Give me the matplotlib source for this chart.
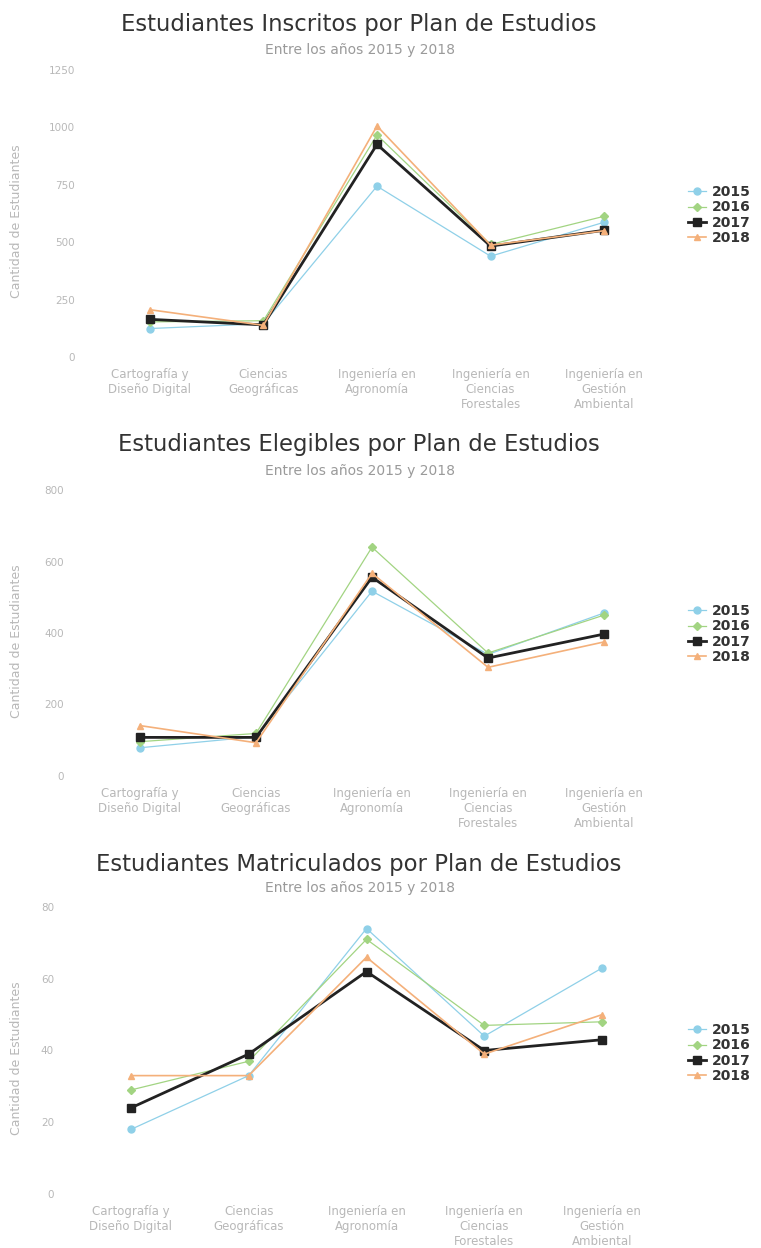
import matplotlib
matplotlib.use("Agg")
import matplotlib.pyplot as plt

plt.rcParams['font.family'] = ['DejaVu Sans']

categories = ["Cartografía y\nDiseño Digital", "Ciencias\nGeográficas",
              "Ingeniería en\nAgronomía", "Ingeniería en\nCiencias\nForestales",
              "Ingeniería en\nGestión\nAmbiental"]
years = ["2015", "2016", "2017", "2018"]

inscritos_2015 = [124, 145, 744, 439, 587]
inscritos_2016 = [153, 158, 967, 490, 613]
inscritos_2017 = [164, 140, 926, 483, 552]
inscritos_2018 = [206, 138, 1006, 487, 550]

elegibles_2015 = [79, 110, 517, 340, 456]
elegibles_2016 = [96, 119, 640, 344, 450]
elegibles_2017 = [108, 108, 556, 330, 397]
elegibles_2018 = [141, 93, 567, 304, 375]

matriculados_2015 = [18, 33, 74, 44, 63]
matriculados_2016 = [29, 37, 71, 47, 48]
matriculados_2017 = [24, 39, 62, 40, 43]
matriculados_2018 = [33, 33, 66, 39, 50]

titles = ["Estudiantes Inscritos por Plan de Estudios",
          "Estudiantes Elegibles por Plan de Estudios",
          "Estudiantes Matriculados por Plan de Estudios"]
subtitle = "Entre los años 2015 y 2018"
ylabel = "Cantidad de Estudiantes"
yticks_1 = [0, 250, 500, 750, 1000, 1250]
yticks_2 = [0, 200, 400, 600, 800]
yticks_3 = [0, 20, 40, 60, 80]

W, H = 761, 1248
fig = plt.figure(figsize=(W / 100, H / 100), dpi=100)

styles = [
    dict(color="#8fd0e8", marker="o", lw=0.9, ms=5),
    dict(color="#a2d482", marker="D", lw=0.9, ms=4),
    dict(color="#222222", marker="s", lw=2.0, ms=6),
    dict(color="#f4b07a", marker="^", lw=1.2, ms=5),
]

panels = [
    dict(series=[inscritos_2015, inscritos_2016, inscritos_2017, inscritos_2018],
         yticks=yticks_1, left=93, right=661, top=70, bottom=357,
         title_y=25, sub_y=50, leg_y=215),
    dict(series=[elegibles_2015, elegibles_2016, elegibles_2017, elegibles_2018],
         yticks=yticks_2, left=82, right=662, top=490, bottom=776,
         title_y=445, sub_y=471, leg_y=634),
    dict(series=[matriculados_2015, matriculados_2016, matriculados_2017, matriculados_2018],
         yticks=yticks_3, left=72, right=661, top=907, bottom=1194,
         title_y=864, sub_y=888, leg_y=1053),
]

for i, p in enumerate(panels):
    ax = fig.add_axes([p["left"] / W, 1 - p["bottom"] / H,
                       (p["right"] - p["left"]) / W, (p["bottom"] - p["top"]) / H])
    x = list(range(len(categories)))
    handles = []
    for yr, vals, st in zip(years, p["series"], styles):
        h, = ax.plot(x, vals, color=st["color"], marker=st["marker"], lw=st["lw"],
                     ms=st["ms"], mec=st["color"], mfc=st["color"], label=yr)
        handles.append(h)
    ax.set_xlim(-0.5, len(categories) - 0.5)
    ax.set_ylim(p["yticks"][0], p["yticks"][-1])
    ax.set_yticks(p["yticks"])
    ax.set_yticklabels([str(t) for t in p["yticks"]])
    ax.set_xticks(x)
    ax.set_xticklabels(categories, linespacing=1.2)
    for s in ax.spines.values():
        s.set_visible(False)
    ax.tick_params(axis="y", length=0, pad=13, labelsize=7.5, labelcolor="#b8b8b8")
    ax.tick_params(axis="x", length=0, pad=8, labelsize=8.5, labelcolor="#b8b8b8")
    ax.set_facecolor("white")

    fig.text(359 / W, 1 - p["title_y"] / H, titles[i],
             ha="center", va="center", fontsize=16.4, color="#333333")
    fig.text(360 / W, 1 - p["sub_y"] / H, subtitle,
             ha="center", va="center", fontsize=10, color="#9a9a9a")
    fig.text(17 / W, 1 - (0.5 * (p["top"] + p["bottom"]) + 8) / H, ylabel, rotation=90,
             ha="center", va="center", fontsize=9, color="#b8b8b8")
    leg = fig.legend(handles=handles, loc="center left",
                     bbox_to_anchor=(688 / W, 1 - p["leg_y"] / H), frameon=False,
                     handlelength=1.3, handletextpad=0.45, labelspacing=0.08,
                     prop=dict(size=10, weight="bold"), borderaxespad=0, borderpad=0)
    for t in leg.get_texts():
        t.set_color("#333333")

fig.savefig("out.png", dpi=100, facecolor="white")
